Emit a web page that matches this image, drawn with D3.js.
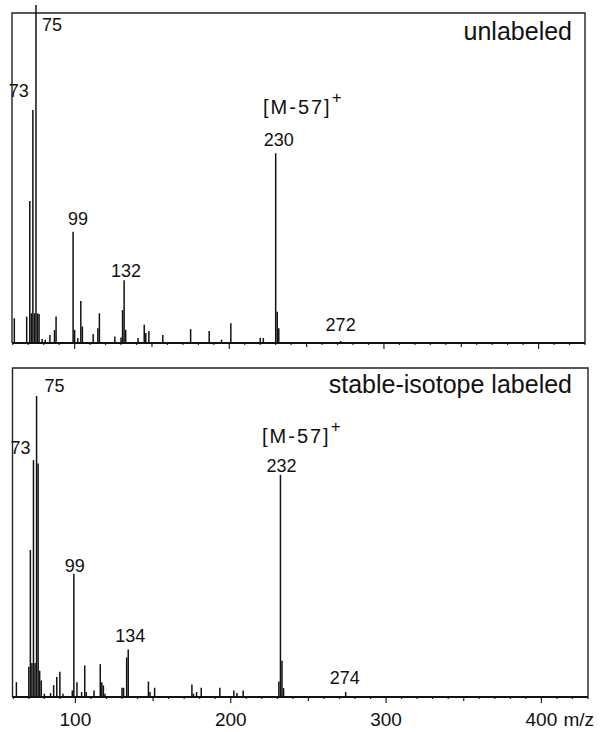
<!DOCTYPE html>
<meta charset="utf-8">
<script src="https://d3js.org/d3.v7.min.js"></script>
<style>
  body { margin: 0; background: #fff; }
  text { font-family: "Liberation Sans", Arial, Helvetica, sans-serif; fill: #111; }
</style>
<div id="chart"></div>
<script>
// unlabeled spectrum: m/z and relative intensity (% of frame height)
var mzTop  = [61, 69, 71, 72, 73, 74, 75, 76, 77, 79, 81, 84, 87, 88, 99, 100, 102, 104, 105, 112, 115, 116,
              126, 130, 131, 132, 133, 141, 145, 146, 148, 157, 175, 187, 195, 201, 220, 222, 230, 231, 232, 272];
var intTop = [7.5, 8, 43, 9, 70.6, 9, 102.4, 9, 8.8, 1.2, 1, 2.4, 3.9, 8, 33.7, 4, 1.5, 12.7, 5, 2.7, 4.5, 9,
              2, 1.7, 10, 19, 4, 1.5, 5.5, 3, 3.6, 2.4, 4.2, 3.6, 1, 6, 1.6, 1.5, 57.5, 9.5, 4.5, 0.6];

// stable-isotope labeled spectrum
var mzBot  = [62, 70, 71, 72, 73, 74, 75, 76, 77, 78, 80, 84, 86, 88, 90, 92, 98, 99, 101, 104, 106, 107, 112,
              116, 117, 118, 119, 130, 131, 133, 134, 147, 148, 151, 175, 176, 178, 181, 193, 202, 204, 208,
              231, 232, 233, 234, 274];
var intBot = [4.5, 9.2, 44.7, 10.3, 72, 10.3, 91.5, 71, 8, 5, 1, 1.2, 3.6, 6.1, 7.7, 1, 2, 37.5, 4.5, 1.5, 9.6, 1.5, 2,
              10, 4.5, 3.5, 1, 2.8, 2.8, 12, 14.4, 4.7, 1.5, 2.8, 3.8, 1, 1.5, 2.8, 2.8, 2, 1.2, 2,
              4.7, 67.5, 11, 2.7, 1.5];

var peakLabelsTop = [[75, "75"], [73, "73"], [99, "99"], [132, "132"], [230, "230"], [272, "272"]];
var peakLabelsBot = [[75, "75"], [73, "73"], [99, "99"], [134, "134"], [232, "232"], [274, "274"]];
var panelTitles = ["unlabeled", "stable-isotope labeled"];
var ionLabel = "[M-57]";
var tickValues = [100, 200, 300, 400];
var tickLabels = ["100", "200", "300", "400"];
var axisUnit = "m/z";

var W = 601, H = 732;
var svg = d3.select("#chart").append("svg")
  .attr("width", W).attr("height", H);

// label placement: [dx, dy above peak top, anchor]
var labelOffTop = {75: [6, -26, "start"], 73: [-4, 13, "end"], 99: [5, 7, "middle"], 132: [2, 3, "middle"],
                   230: [3, 7, "middle"], 272: [0, 10, "middle"]};
var labelOffBot = {75: [8, 4, "start"], 73: [-3, 6, "end"], 99: [1, 2, "middle"], 134: [2, 8, "middle"],
                   232: [1, 3, "middle"], 274: [-1, 8, "middle"]};

function panel(mz, inten, box, labels, offs, title, titleY, ionX, ionY, showTicks) {
  var x = d3.scaleLinear().domain([59.5, 430]).range([box.left, box.right]);
  var y = d3.scaleLinear().domain([0, 100]).range([box.bottom, box.top]);
  var g = svg.append("g");

  // frame (open bottom, axis drawn separately)
  g.append("path")
    .attr("d", "M" + box.left + "," + box.bottom + "V" + box.top + "H" + box.right + "V" + box.bottom)
    .attr("fill", "none").attr("stroke", "#222").attr("stroke-width", 1.4);

  // peaks
  var data = mz.map(function(m, i) { return {mz: m, v: inten[i]}; });
  g.selectAll("line.pk").data(data).enter().append("line")
    .attr("class", "pk")
    .attr("x1", function(d) { return x(d.mz); })
    .attr("x2", function(d) { return x(d.mz); })
    .attr("y1", y(0))
    .attr("y2", function(d) { return y(d.v); })
    .attr("stroke", "#111")
    .attr("stroke-width", 1.5);

  // axis with minor ticks
  var minor = d3.range(60, 431, 10);
  g.selectAll("line.mt").data(minor).enter().append("line")
    .attr("x1", function(d) { return x(d); }).attr("x2", function(d) { return x(d); })
    .attr("y1", y(0))
    .attr("y2", function(d) { return y(0) + (d % 100 === 0 ? 6 : d % 50 === 0 ? 4 : 2); })
    .attr("stroke", "#222").attr("stroke-width", 1.2);
  g.append("line")
    .attr("x1", box.left).attr("x2", box.right)
    .attr("y1", y(0)).attr("y2", y(0))
    .attr("stroke", "#111").attr("stroke-width", 2);

  if (showTicks) {
    g.selectAll("text.tl").data(tickValues).enter().append("text")
      .attr("x", function(d) { return x(d); })
      .attr("y", y(0) + 29)
      .attr("text-anchor", "middle")
      .attr("font-size", 19)
      .text(function(d, i) { return tickLabels[i]; });
    g.append("text")
      .attr("x", x(400) + 22).attr("y", y(0) + 29)
      .attr("font-size", 19)
      .text(axisUnit);
  }

  // peak labels
  labels.forEach(function(l) {
    var m = l[0], v = inten[mz.indexOf(m)], o = offs[m];
    g.append("text")
      .attr("x", x(m) + o[0])
      .attr("y", y(v) - o[1])
      .attr("text-anchor", o[2])
      .attr("font-size", 18)
      .text(l[1]);
  });

  // [M-57]+
  var ion = g.append("text")
    .attr("x", ionX).attr("y", ionY)
    .attr("font-size", 20)
    .attr("letter-spacing", 2);
  ion.append("tspan").text(ionLabel);
  ion.append("tspan").attr("dy", -11).attr("font-size", 17).attr("letter-spacing", 0).text("+");

  g.append("text")
    .attr("x", 572).attr("y", titleY)
    .attr("text-anchor", "end")
    .attr("font-size", 25)
    .text(title);
}

panel(mzTop, intTop, {left: 12, right: 585, top: 13, bottom: 343},
      peakLabelsTop, labelOffTop, panelTitles[0], 39.5, 263, 114, false);
panel(mzBot, intBot, {left: 12.5, right: 588, top: 368, bottom: 697},
      peakLabelsBot, labelOffBot, panelTitles[1], 393, 262, 443, true);
</script>
